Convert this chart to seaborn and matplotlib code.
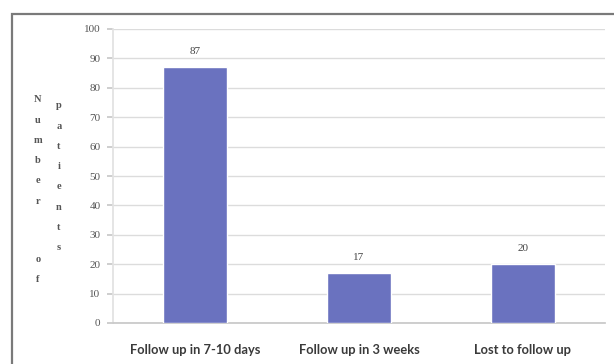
import matplotlib
matplotlib.use("Agg")
import matplotlib.pyplot as plt
from matplotlib.patches import Rectangle
import seaborn as sns
import pandas as pd

categories = ["Follow up in 7-10 days", "Follow up in 3 weeks", "Lost to follow up"]
patients = [87, 17, 20]
y_ticks = [0, 10, 20, 30, 40, 50, 60, 70, 80, 90, 100]
ylabel_col1 = "Number of"
ylabel_col2 = "patients"

df = pd.DataFrame({"group": categories, "patients": patients})

sns.set_theme(style="white")
plt.rcParams["font.family"] = ["Liberation Serif", "DejaVu Sans"]

W, H = 614, 364
fig = plt.figure(figsize=(W / 100, H / 100), dpi=100)
fig.patch.set_facecolor("white")

# outer chart frame
fig.add_artist(Rectangle((12 / W, -0.05), 1.1, 1 - 14 / H + 0.05,
                         transform=fig.transFigure, fill=False,
                         edgecolor="#7a7a7a", linewidth=1.6))

ax = fig.add_axes([113 / W, 1 - 323 / H, (605 - 113) / W, (323 - 29) / H])
sns.barplot(data=df, x="group", y="patients", color="#6a72bf",
            saturation=1, width=0.39, ax=ax, zorder=3)

ax.set_ylim(0, 100)
ax.set_xlim(-0.5, 2.5)
ax.set_yticks(y_ticks)
ax.set_yticklabels([str(t) for t in y_ticks], fontsize=8, color="#555555")
ax.yaxis.grid(True, color="#dcdcdc", linewidth=1.0, zorder=0)
ax.set_axisbelow(True)
for side in ("top", "right"):
    ax.spines[side].set_visible(False)
ax.spines["left"].set_color("#e2e2e2")
ax.spines["bottom"].set_color("#c8c8c8")
ax.tick_params(axis="y", length=4, color="#c8c8c8", pad=5, left=True)
ax.tick_params(axis="x", length=0, pad=15)
for lbl in ax.get_xticklabels():
    lbl.set_family(["Lato", "DejaVu Sans"])
    lbl.set_fontsize(9.3)
    lbl.set_fontweight("bold")
    lbl.set_color("#3a3a3a")
ax.set_xlabel("")
ax.set_ylabel("")

for i, v in enumerate(patients):
    ax.annotate(str(v), (i, v), xytext=(0, 11), textcoords="offset points",
                ha="center", va="center", fontsize=8, color="#444444")

# stacked vertical axis title in two columns
y0 = 1 - 100 / H
step = 20.2 / H
for k, ch in enumerate(ylabel_col1):
    if ch != " ":
        fig.text(38 / W, y0 - k * step - (0.9 * step if k > 6 else 0), ch,
                 ha="center", va="center", fontsize=7.5, color="#555555",
                 fontweight="bold")
y1 = 1 - 106 / H
for k, ch in enumerate(ylabel_col2):
    fig.text(59 / W, y1 - k * step, ch, ha="center", va="center",
             fontsize=7.5, color="#555555", fontweight="bold")

fig.savefig("out.png", dpi=100, facecolor="white")
